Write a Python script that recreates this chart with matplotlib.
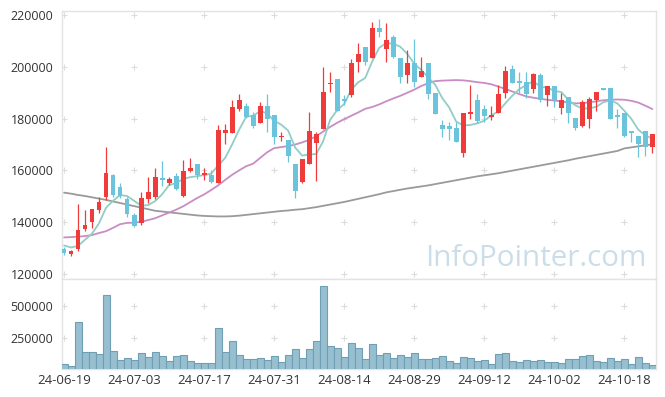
import matplotlib
matplotlib.use("Agg")
import matplotlib.pyplot as plt
import numpy as np

plt.rcParams['font.family'] = ['Open Sans', 'DejaVu Sans']

tick_labels = ['24-06-19', '24-07-03', '24-07-17', '24-07-31', '24-08-14',
               '24-08-29', '24-09-12', '24-10-02', '24-10-18']

opens = [129600, 127500, 129700, 137400, 140200, 144800, 149700, 158400, 153600, 148900,
         142800, 139600, 148900, 149900, 157100, 155300, 157900, 150200, 159800, 162500,
         158300, 158300, 155300, 174600, 174600, 183600, 185000, 181400, 178500, 184900,
         181400, 172800, 171800, 162500, 155700, 162600, 170700, 176100, 193500, 195300,
         187400, 189100, 202000, 207700, 203500, 215000, 207000, 211400, 203300, 196900,
         201400, 196200, 201400, 189800, 177600, 177200, 176300, 166900, 181800, 187200,
         183700, 180700, 182300, 190000, 199200, 194500, 194000, 191300, 196900, 189100,
         192600, 184000, 188300, 180100, 177300, 179900, 187200, 191700, 191700, 181400,
         182300, 175200, 173200, 175200, 169200]
highs = [130400, 129300, 147000, 144600, 145100, 149700, 169200, 158500, 155200, 149900,
         143500, 151800, 157500, 161000, 163700, 157600, 158900, 164100, 164800, 162600,
         160800, 160200, 177600, 177800, 187200, 189400, 185900, 182700, 186600, 189500,
         181400, 175000, 171800, 162500, 164400, 182500, 174700, 200100, 198100, 195300,
         189100, 203000, 209100, 207700, 217400, 218400, 216800, 212300, 203300, 206500,
         210700, 203900, 201400, 189800, 179500, 178800, 178800, 182300, 193000, 189500,
         185300, 184900, 193000, 200300, 200700, 197900, 197900, 197500, 197500, 192600,
         192600, 189800, 188400, 180100, 187200, 188300, 190400, 191700, 191700, 183600,
         182300, 175200, 173200, 175200, 174000]
lows = [127300, 127000, 128700, 136400, 137700, 143500, 148600, 149700, 149300, 141900,
        138300, 139000, 147300, 148900, 154000, 154300, 152500, 149700, 159400, 156700,
        156100, 155100, 155100, 170100, 174400, 183100, 180100, 176300, 178500, 175000,
        170200, 171500, 163200, 149300, 155300, 162600, 155900, 176100, 190200, 183100,
        185300, 188500, 197900, 200700, 203500, 211600, 202000, 203300, 193900, 193900,
        192300, 196200, 187500, 181800, 173000, 171800, 171100, 165100, 180000, 178500,
        178800, 179500, 182300, 187900, 193700, 189800, 187900, 189800, 186600, 184900,
        184600, 181800, 178200, 175600, 176900, 176300, 183100, 191000, 179900, 176300,
        173000, 171100, 165300, 165600, 166600]
closes = [128000, 128900, 137000, 139000, 145000, 147800, 159000, 150500, 150000, 143200,
          138700, 149400, 151600, 157600, 156400, 156700, 152900, 159900, 161000, 158300,
          158800, 155600, 175600, 175600, 184500, 187200, 180800, 177300, 184900, 180000,
          173000, 173300, 165700, 152200, 164400, 175200, 174100, 190300, 193800, 183100,
          187000, 201400, 205000, 202000, 215000, 213500, 210400, 203900, 196200, 201400,
          194300, 198400, 189500, 181800, 175900, 175900, 171100, 182100, 182700, 179100,
          181000, 181500, 189500, 198400, 193900, 193700, 189500, 197200, 187200, 192600,
          187200, 187200, 182300, 176500, 186300, 187600, 190200, 191100, 179900, 180700,
          173400, 174400, 170200, 169200, 174000]
volumes = [44800, 29000, 374900, 141500, 141500, 125800, 581600, 149300, 78600, 94300,
           78600, 133600, 102200, 141500, 110000, 70700, 110000, 117900, 70700, 55000,
           55000, 55000, 322300, 141500, 227900, 117900, 86500, 86500, 94300, 78600,
           110000, 62900, 117900, 165100, 94300, 165100, 227900, 650000, 188600, 172900,
           102200, 212200, 170200, 84000, 204400, 115500, 131000, 92000, 115500, 100000,
           131000, 84000, 84000, 92000, 107700, 68400, 52700, 100000, 92000, 68400,
           76200, 44800, 123400, 131000, 68400, 60500, 76200, 68400, 76200, 60500,
           60500, 52700, 84000, 84000, 107700, 115500, 68400, 60500, 92000, 68400,
           84000, 44800, 100000, 52700, 36900]
ma5 = [131000, 130200, 130800, 133200, 135580, 139540, 145560, 148260, 150460, 150100,
       148280, 146360, 146580, 148100, 150740, 154340, 155040, 156700, 157380, 157760,
       158180, 158720, 161860, 164780, 170020, 175700, 180740, 181080, 182940, 182040,
       179200, 177700, 175380, 168840, 165720, 166160, 166320, 171240, 179560, 183300,
       185660, 191120, 194060, 195700, 202080, 207380, 209180, 208960, 207800, 205080,
       201240, 198840, 195960, 193080, 187980, 184300, 178840, 177360, 177540, 178180,
       179200, 181280, 182760, 185900, 188860, 191400, 193000, 194540, 192300, 192040,
       190740, 190280, 187300, 185160, 183900, 183980, 184580, 186340, 187020, 185900,
       183060, 179900, 175720, 173580, 172240]
ma20 = [134100, 134200, 134400, 134600, 135000, 135800, 136500, 137800, 139200, 139700,
        139800, 140100, 140800, 141500, 142600, 143700, 144800, 146100, 147700, 149300,
        150700, 152400, 154200, 156300, 158300, 160000, 161600, 162600, 164800, 167000,
        168600, 169000, 169400, 170000, 170800, 171800, 173200, 175000, 176800, 178400,
        179800, 181100, 182400, 183800, 184500, 185500, 186700, 187800, 188800, 190000,
        191200, 192600, 193700, 194500, 194700, 194800, 194900, 194800, 194500, 194100,
        193800, 193300, 192400, 191500, 190500, 189500, 188600, 188100, 187700, 187300,
        187000, 186700, 186200, 185900, 186000, 186300, 186700, 187100, 187300, 187400,
        187300, 186900, 186200, 185000, 183700]
ma_long = [151400, 151000, 150500, 150100, 149600, 149100, 148600, 148000, 147400, 146800,
           146200, 145600, 145000, 144400, 144100, 143800, 143500, 143200, 142900, 142600,
           142400, 142300, 142200, 142200, 142300, 142500, 142800, 143100, 143400, 143700,
           144000, 144300, 144500, 144800, 145000, 145400, 145800, 146300, 146800, 147300,
           147800, 148400, 149000, 149600, 150200, 150800, 151500, 152000, 152500, 153000,
           153400, 153800, 154200, 154700, 155200, 155700, 156200, 156700, 157200, 157700,
           158100, 158500, 158900, 159400, 159900, 160400, 160900, 161400, 161900, 162400,
           162900, 163400, 163900, 164500, 165000, 165500, 166000, 166500, 167000, 167500,
           168500, 168900, 169300, 169700, 170100]

price_ticks = [120000, 140000, 160000, 180000, 200000, 220000]
vol_ticks = [250000, 500000]

UP = '#f03b3b'
DOWN = '#6cc3dc'
GRID = '#dcdcdc'
SPINE = '#e3e3e3'
TXT = '#333333'

W, H = 665, 397
fig = plt.figure(figsize=(W / 100, H / 100), dpi=100)
L, R = 61.7, 655.5
ax = fig.add_axes([L / W, (H - 278.8) / H, (R - L) / W, (278.8 - 10.5) / H])
axv = fig.add_axes([L / W, (H - 368.5) / H, (R - L) / W, (368.5 - 278.8) / H], sharex=ax)

x = np.arange(len(closes))
o = np.array(opens); c = np.array(closes); h = np.array(highs); lo = np.array(lows)
up = c >= o
cols = np.where(up, UP, DOWN)

# moving averages
ax.plot(x, ma_long, color='#9a9a9a', lw=1.3, zorder=2, solid_capstyle='round')
ax.plot(x, ma20, color='#c98cc4', lw=1.3, zorder=2, solid_capstyle='round')
ax.plot(x, ma5, color='#92cdc5', lw=1.3, zorder=2, solid_capstyle='round')

# wicks
ax.vlines(x, lo, h, colors=cols, lw=0.9, zorder=3)
# bodies
bottom = np.minimum(o, c)
height = np.maximum(np.abs(c - o), 450)
ax.bar(x, height, bottom=bottom, width=0.7, color=cols, linewidth=0, zorder=4)

ax.set_xlim(-0.33, 84.45)
ax.set_ylim(118100, 221800)
ax.set_yticks(price_ticks)
ax.set_yticklabels([str(v) for v in price_ticks])

# volume
axv.bar(x, volumes, width=1.0, color='#97bfd0', edgecolor='#6e9fb5', linewidth=0.8, zorder=3)
axv.set_ylim(10000, 710000)
axv.set_yticks(vol_ticks)
axv.set_yticklabels([str(v) for v in vol_ticks])

xt = np.arange(0, 81, 10)
axv.set_xticks(xt)
axv.set_xticklabels(tick_labels)
plt.setp(ax.get_xticklabels(), visible=False)

# plus-shaped grid markers
for a, yt in ((ax, price_ticks), (axv, vol_ticks)):
    gx, gy = np.meshgrid(xt, yt)
    a.scatter(gx.ravel(), gy.ravel(), marker='+', s=18, color=GRID, linewidths=0.8, zorder=1)
    for s in a.spines.values():
        s.set_color(SPINE)
        s.set_linewidth(1.0)
    a.tick_params(length=0, labelsize=9, colors=TXT, pad=6)
    a.set_facecolor('white')
axv.tick_params(axis='x', pad=4, labelsize=9.5)

ax.text(0.985, 0.048, 'InfoPointer.com', transform=ax.transAxes, ha='right', va='baseline',
        fontsize=21.3, color='#cbdde8', zorder=0)

fig.savefig('out.png', dpi=100)
